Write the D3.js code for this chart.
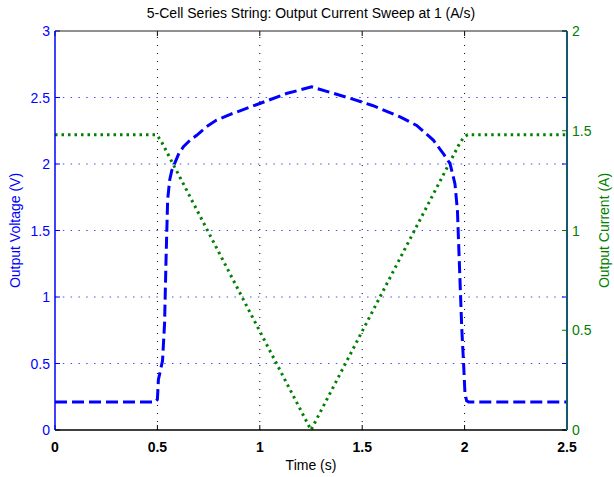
<!DOCTYPE html>
<html lang="en">
<head>
<meta charset="UTF-8">
<title>5-Cell Series String</title>
<script src="https://d3js.org/d3.v7.min.js"></script>
<style>
  body { margin: 0; background: #fff; }
  svg { display: block; font-family: 'Liberation Sans', Arial, sans-serif; }
</style>
</head>
<body>
<svg id="chart" width="614" height="477"></svg>
<script>
// time (s) and output voltage (V)
var timeV = [0, 0.49, 0.5, 0.505, 0.515, 0.525, 0.535, 0.542, 0.55, 0.56, 0.57, 0.586, 0.605, 0.627, 0.66, 0.692, 0.74, 0.789, 0.85, 0.903, 1.0, 1.13, 1.253, 1.34, 1.45, 1.55, 1.685, 1.766, 1.847, 1.896, 1.929, 1.953, 1.965, 1.974, 1.986, 1.995, 2.002, 2.01, 2.02, 2.5];
var volts = [0.21, 0.21, 0.23, 0.38, 0.45, 0.52, 0.8, 1.27, 1.73, 1.88, 1.95, 2.01, 2.08, 2.13, 2.18, 2.216, 2.28, 2.33, 2.37, 2.40, 2.455, 2.53, 2.58, 2.54, 2.49, 2.44, 2.354, 2.29, 2.18, 2.078, 2.003, 1.85, 1.65, 1.27, 0.77, 0.5, 0.27, 0.22, 0.21, 0.21];
// time (s) and output current (A)
var timeI = [0, 0.49, 0.5, 0.52, 1.25, 1.98, 2.0, 2.015, 2.5];
var amps = [1.48, 1.48, 1.475, 1.445, 0, 1.445, 1.47, 1.48, 1.48];

var xTicks = [0, 0.5, 1, 1.5, 2, 2.5];
var vTicks = [0, 0.5, 1, 1.5, 2, 2.5, 3];
var iTicks = [0, 0.5, 1, 1.5, 2];

var L = 55, R = 567, T = 31, B = 430;
var blue = "#0000ff", green = "#008000", teal = "#145a6e";

var svg = d3.select("#chart");
var x = d3.scaleLinear().domain([0, 2.5]).range([L, R]);
var yV = d3.scaleLinear().domain([0, 3]).range([B, T]);
var yI = d3.scaleLinear().domain([0, 2]).range([B, T]);

// grid
svg.append("g").selectAll("line").data(xTicks.slice(1, -1)).enter().append("line")
  .attr("x1", d => x(d)).attr("x2", d => x(d)).attr("y1", B).attr("y2", T)
  .attr("stroke", "#000").attr("stroke-width", 1).attr("stroke-dasharray", "1,7");
svg.append("g").selectAll("line").data(vTicks.slice(1, -1)).enter().append("line")
  .attr("x1", L).attr("x2", R).attr("y1", d => yV(d)).attr("y2", d => yV(d))
  .attr("stroke", "#4d4dff").attr("stroke-width", 1).attr("stroke-dasharray", "1.5,6.3");

// series
var lineV = d3.line().x((d, i) => x(timeV[i])).y(d => yV(d));
var lineI = d3.line().x((d, i) => x(timeI[i])).y(d => yI(d));
svg.append("path").datum(amps).attr("d", lineI)
  .attr("fill", "none").attr("stroke", green).attr("stroke-width", 3)
  .attr("stroke-dasharray", "2.5,4");
svg.append("path").datum(volts).attr("d", lineV)
  .attr("fill", "none").attr("stroke", blue).attr("stroke-width", 3)
  .attr("stroke-dasharray", "12,5");

// ticks (inside)
var tk = svg.append("g");
xTicks.forEach(function (d) {
  tk.append("line").attr("x1", x(d)).attr("x2", x(d)).attr("y1", B).attr("y2", B - 5).attr("stroke", "#000");
  tk.append("line").attr("x1", x(d)).attr("x2", x(d)).attr("y1", T).attr("y2", T + 5).attr("stroke", "#000");
});
vTicks.forEach(function (d) {
  tk.append("line").attr("x1", L).attr("x2", L + 5).attr("y1", yV(d)).attr("y2", yV(d)).attr("stroke", blue);
  tk.append("line").attr("x1", R).attr("x2", R - 5).attr("y1", yV(d)).attr("y2", yV(d)).attr("stroke", blue);
});
iTicks.forEach(function (d) {
  tk.append("line").attr("x1", R).attr("x2", R - 5).attr("y1", yI(d)).attr("y2", yI(d)).attr("stroke", green);
});

// box
svg.append("line").attr("x1", L).attr("x2", R).attr("y1", T).attr("y2", T).attr("stroke", "#222");
svg.append("line").attr("x1", L).attr("x2", R).attr("y1", B).attr("y2", B).attr("stroke", "#000").attr("stroke-width", 1.5);
svg.append("line").attr("x1", L).attr("x2", L).attr("y1", T).attr("y2", B).attr("stroke", blue).attr("stroke-width", 1.5);
svg.append("line").attr("x1", R).attr("x2", R).attr("y1", T).attr("y2", B).attr("stroke", teal).attr("stroke-width", 2);

// tick labels
svg.append("g").selectAll("text").data(xTicks).enter().append("text")
  .attr("x", d => x(d)).attr("y", 452).attr("text-anchor", "middle")
  .attr("font-size", 14).attr("font-weight", "bold").attr("fill", "#000")
  .text(d => d);
svg.append("g").selectAll("text").data(vTicks).enter().append("text")
  .attr("x", L - 5).attr("y", d => yV(d) + 5).attr("text-anchor", "end")
  .attr("font-size", 14).attr("fill", blue).text(d => d);
svg.append("g").selectAll("text").data(iTicks).enter().append("text")
  .attr("x", R + 5).attr("y", d => yI(d) + 5).attr("text-anchor", "start")
  .attr("font-size", 14).attr("fill", green).text(d => d);

// titles
svg.append("text").attr("x", 311).attr("y", 18).attr("text-anchor", "middle")
  .attr("font-size", 14).attr("fill", "#000")
  .text("5-Cell Series String: Output Current Sweep at 1 (A/s)");
svg.append("text").attr("x", 311).attr("y", 470).attr("text-anchor", "middle")
  .attr("font-size", 14).attr("fill", "#000").text("Time (s)");
svg.append("text").attr("transform", "translate(20," + ((T + B) / 2) + ") rotate(-90)")
  .attr("text-anchor", "middle").attr("font-size", 14).attr("fill", blue)
  .text("Output Voltage (V)");
svg.append("text").attr("transform", "translate(609," + ((T + B) / 2) + ") rotate(-90)")
  .attr("text-anchor", "middle").attr("font-size", 14).attr("fill", green)
  .text("Output Current (A)");
</script>
</body>
</html>
